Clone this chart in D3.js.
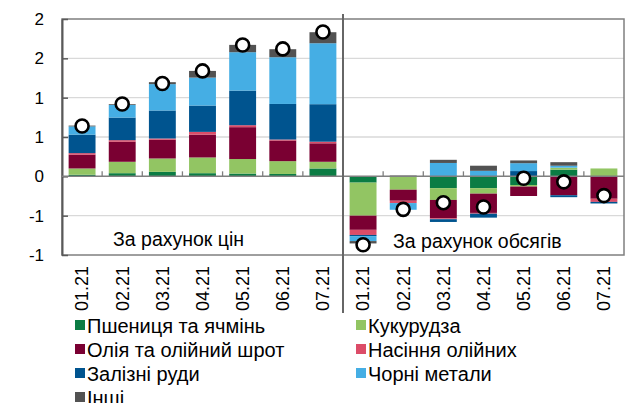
<!DOCTYPE html>
<html>
<head>
<meta charset="utf-8">
<script src="https://cdn.jsdelivr.net/npm/d3@7"></script>
<style>
body { margin: 0; background: #fff; }
text { font-family: Arial, "Liberation Sans", sans-serif; fill: #000; }
</style>
</head>
<body>
<div id="chart"></div>
<script>
var svgWidth = 625;
var svgHeight = 403;

var categories = ["01.21", "02.21", "03.21", "04.21", "05.21", "06.21", "07.21",
	"01.21", "02.21", "03.21", "04.21", "05.21", "06.21", "07.21"];

var wheat = [0.02, 0.04, 0.057, 0.04, 0.035, 0.03, 0.1, -0.08, 0, -0.15, -0.15, -0.11, 0.085, 0];
var corn = [0.08, 0.145, 0.17, 0.2, 0.185, 0.163, 0.085, -0.42, -0.17, -0.15, -0.07, -0.02, 0.025, 0.1];
var oil = [0.175, 0.255, 0.238, 0.29, 0.405, 0.262, 0.235, -0.18, -0.14, -0.235, -0.245, -0.12, -0.24, -0.285];
var seeds = [0.02, 0.02, 0.016, 0.035, 0.025, 0.013, 0.02, -0.065, -0.03, -0.01, -0.01, 0, 0, -0.04];
var ore = [0.235, 0.287, 0.356, 0.335, 0.44, 0.452, 0.477, -0.015, 0, -0.035, -0.05, 0.067, -0.025, -0.02];
var metals = [0.105, 0.16, 0.335, 0.355, 0.488, 0.594, 0.775, -0.063, -0.085, 0.17, 0.07, 0.1, 0.025, 0];
var other = [0.01, 0.01, 0.025, 0.085, 0.093, 0.102, 0.14, -0.03, 0.01, 0.04, 0.065, 0.035, 0.045, 0];
var total = [0.64, 0.92, 1.18, 1.34, 1.67, 1.62, 1.835, -0.87, -0.42, -0.335, -0.39, -0.025, -0.07, -0.245];

var yTicks = [2, 1.5, 1, 0.5, 0, -0.5, -1];
var yTickLabels = ["2", "2", "1", "1", "0", "-1", "-1"];

var seriesNames = ["Пшениця та ячмінь", "Кукурудза", "Олія та олійний шрот", "Насіння олійних",
	"Залізні руди", "Чорні метали", "Інші"];
var seriesColors = ["#0b7c44", "#92c563", "#7a0032", "#dc4c68", "#00548f", "#45aee4", "#525252"];
var panelLabels = ["За рахунок цін", "За рахунок обсягів"];

var margin = { top: 19, right: 1, bottom: 148, left: 62 };
var width = svgWidth - margin.left - margin.right;
var height = svgHeight - margin.top - margin.bottom;

var svg = d3.select("#chart")
	.append("svg")
	.attr("width", svgWidth)
	.attr("height", svgHeight);

var chartGroup = svg.append("g")
	.attr("transform", `translate(${margin.left}, ${margin.top})`);

var rows = categories.map(function(c, i) {
	return { i: i, s0: wheat[i], s1: corn[i], s2: oil[i], s3: seeds[i], s4: ore[i], s5: metals[i], s6: other[i] };
});
var keys = ["s0", "s1", "s2", "s3", "s4", "s5", "s6"];

var stacked = d3.stack()
	.keys(keys)
	.offset(d3.stackOffsetDiverging)(rows);

var xBand = d3.scaleBand()
	.domain(d3.range(categories.length))
	.range([0, width])
	.paddingInner(0.33)
	.paddingOuter(0.165);

var yLinearScale = d3.scaleLinear()
	.domain([-1, 2])
	.range([height, 0]);

// gridlines
chartGroup.append("g")
	.selectAll("line")
	.data(yTicks.filter(d => d !== 0 && d !== 2 && d !== -1))
	.enter()
	.append("line")
	.attr("x1", 0)
	.attr("x2", width)
	.attr("y1", d => yLinearScale(d))
	.attr("y2", d => yLinearScale(d))
	.attr("stroke", "#d9d9d9")
	.attr("stroke-width", 1.3);

// bars
chartGroup.append("g")
	.selectAll("g")
	.data(stacked)
	.enter()
	.append("g")
	.attr("fill", (d, k) => seriesColors[k])
	.selectAll("rect")
	.data(d => d)
	.enter()
	.append("rect")
	.attr("x", d => xBand(d.data.i))
	.attr("width", xBand.bandwidth())
	.attr("y", d => yLinearScale(Math.max(d[0], d[1])))
	.attr("height", d => Math.abs(yLinearScale(d[0]) - yLinearScale(d[1])));

// frame
chartGroup.append("rect")
	.attr("x", 0)
	.attr("y", 0)
	.attr("width", width)
	.attr("height", height)
	.attr("fill", "none")
	.attr("stroke", "#7f7f7f")
	.attr("stroke-width", 1.5);

var leftAxis = d3.axisLeft(yLinearScale)
	.tickValues(yTicks)
	.tickFormat((d, i) => yTickLabels[i])
	.tickSizeInner(-6)
	.tickSizeOuter(0)
	.tickPadding(18);

var yAxis = chartGroup.append("g")
	.call(leftAxis);
yAxis.select(".domain").attr("stroke", "#595959").attr("stroke-width", 2);
yAxis.selectAll(".tick line").attr("stroke", "#595959").attr("stroke-width", 1.5);
yAxis.selectAll(".tick text").style("font-size", "17px").attr("fill", "#000");

// zero line with category boundary ticks
chartGroup.append("line")
	.attr("x1", 0)
	.attr("x2", width)
	.attr("y1", yLinearScale(0))
	.attr("y2", yLinearScale(0))
	.attr("stroke", "#7f7f7f")
	.attr("stroke-width", 1.5);

var step = xBand.step();
chartGroup.append("g")
	.selectAll("line")
	.data(d3.range(1, categories.length).filter(i => i !== 7))
	.enter()
	.append("line")
	.attr("x1", i => xBand(i) - step * xBand.paddingInner() / 2)
	.attr("x2", i => xBand(i) - step * xBand.paddingInner() / 2)
	.attr("y1", yLinearScale(0))
	.attr("y2", yLinearScale(0) - 5)
	.attr("stroke", "#7f7f7f")
	.attr("stroke-width", 1.3);

// divider between price and volume panels
var divX = xBand(7) - step * xBand.paddingInner() / 2;
chartGroup.append("line")
	.attr("x1", divX)
	.attr("x2", divX)
	.attr("y1", -5)
	.attr("y2", height + 58)
	.attr("stroke", "#666")
	.attr("stroke-width", 2);

// category labels
var bottomAxis = d3.axisBottom(xBand)
	.tickFormat(i => categories[i])
	.tickSize(0);

var xAxis = chartGroup.append("g")
	.attr("transform", `translate(0, ${height})`)
	.call(bottomAxis);
xAxis.select(".domain").remove();
xAxis.selectAll(".tick text")
	.attr("transform", "rotate(-90)")
	.attr("x", -11)
	.attr("y", 0)
	.attr("dy", "0.35em")
	.style("text-anchor", "end")
	.style("font-size", "18px")
	.attr("fill", "#000");

// total markers
chartGroup.append("g")
	.selectAll("circle")
	.data(total)
	.enter()
	.append("circle")
	.attr("cx", (d, i) => xBand(i) + xBand.bandwidth() / 2)
	.attr("cy", d => yLinearScale(d))
	.attr("r", 6.5)
	.attr("fill", "#fff")
	.attr("stroke", "#000")
	.attr("stroke-width", 2.6);

// panel labels
chartGroup.append("text")
	.attr("x", 51)
	.attr("y", 227)
	.style("font-size", "19.5px")
	.text(panelLabels[0]);
chartGroup.append("text")
	.attr("x", 331)
	.attr("y", 229)
	.style("font-size", "19.5px")
	.text(panelLabels[1]);

// legend
var legend = svg.append("g");
var legendItems = legend.selectAll("g")
	.data(seriesNames)
	.enter()
	.append("g")
	.attr("transform", (d, i) => `translate(${i % 2 === 0 ? 75 : 356}, ${325 + Math.floor(i / 2) * 24})`);
legendItems.append("rect")
	.attr("x", 0)
	.attr("y", -5)
	.attr("width", 10)
	.attr("height", 10)
	.attr("fill", (d, i) => seriesColors[i]);
legendItems.append("text")
	.attr("x", 12)
	.attr("y", 1)
	.attr("dy", "0.35em")
	.style("font-size", "20px")
	.text(d => d);
</script>
</body>
</html>
